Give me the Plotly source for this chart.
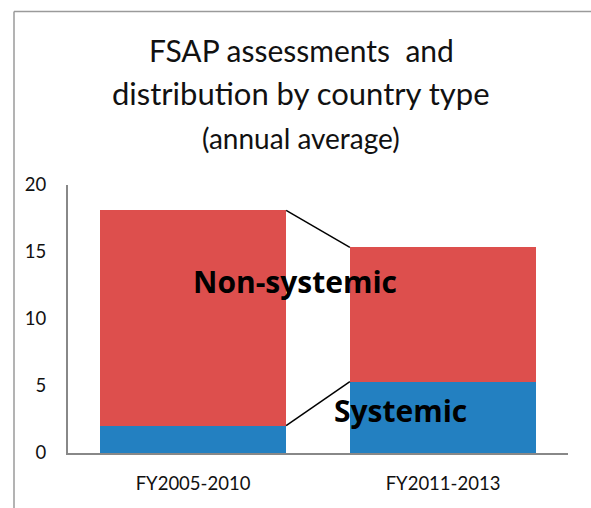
import plotly.graph_objects as go

categories = ["FY2005-2010", "FY2011-2013"]
systemic = [2.05, 5.33]
non_systemic = [16.05, 10.02]
y_ticks = [0, 5, 10, 15, 20]

BLUE = "#2380C1"
RED = "#DD4F4D"
FONT = "Lato, Carlito, Open Sans, sans-serif"
BOLD = "Open Sans, sans-serif"
bar_w = 0.745

xs = list(range(len(categories)))
fig = go.Figure()
fig.add_trace(go.Bar(x=xs, y=systemic, name="Systemic", marker=dict(color=BLUE, line=dict(width=0)), width=bar_w))
fig.add_trace(go.Bar(x=xs, y=non_systemic, name="Non-systemic", marker=dict(color=RED, line=dict(width=0)), width=bar_w))

# series lines connecting stack levels
tops = [s + n for s, n in zip(systemic, non_systemic)]
for level in (systemic, tops):
    fig.add_trace(go.Scatter(x=[xs[0] + bar_w / 2, xs[1] - bar_w / 2], y=[level[0], level[1]],
                             mode="lines", line=dict(color="black", width=1.5), showlegend=False, hoverinfo="skip"))

fig.add_annotation(x=0.406, y=12.8, text="<b>Non-systemic</b>", showarrow=False,
                   font=dict(family=BOLD, size=30, color="black"))
fig.add_annotation(x=0.828, y=3.2, text="<b>Systemic</b>", showarrow=False,
                   font=dict(family=BOLD, size=30, color="black"))

# title lines
for txt, ypix, size in (("FSAP assessments  and", 50, 30),
                        ("distribution by country type", 93, 31),
                        ("(annual average)", 138, 28)):
    fig.add_annotation(xref="paper", yref="paper", x=(301 - 68) / 500, y=(453 - ypix) / 268,
                       yanchor="middle", xanchor="center", text=txt, showarrow=False,
                       font=dict(family=FONT, size=size, color="#111"))

# outer frame (left and top edges)
fy = (453 - 11.5) / 268
fig.add_shape(type="line", xref="paper", yref="paper", x0=-0.108, x1=-0.108, y0=fy, y1=-0.3,
              line=dict(color="#9A9A9A", width=1.5))
fig.add_shape(type="line", xref="paper", yref="paper", x0=-0.108, x1=1.1, y0=fy, y1=fy,
              line=dict(color="#9A9A9A", width=1.5))

fig.update_layout(
    width=591, height=508,
    margin=dict(l=68, r=23, t=185, b=55),
    paper_bgcolor="white", plot_bgcolor="white",
    barmode="stack", showlegend=False,
    font=dict(family=FONT, color="#111"),
    xaxis=dict(range=[-0.5, 1.5], tickvals=xs, ticktext=categories, showline=True,
               linecolor="#888888", linewidth=2, showgrid=False, zeroline=False, ticks="",
               tickfont=dict(size=18.5), ticklabelstandoff=13, automargin=False, fixedrange=True),
    yaxis=dict(range=[0, 20], tickvals=y_ticks, showline=True, linecolor="#888888", linewidth=2,
               showgrid=False, zeroline=False, ticks="", tickfont=dict(size=18.5), ticklabelstandoff=16,
               automargin=False, fixedrange=True),
)

fig.write_html("out.html", config={"displayModeBar": False},
               post_script="document.body.style.margin='0';")
